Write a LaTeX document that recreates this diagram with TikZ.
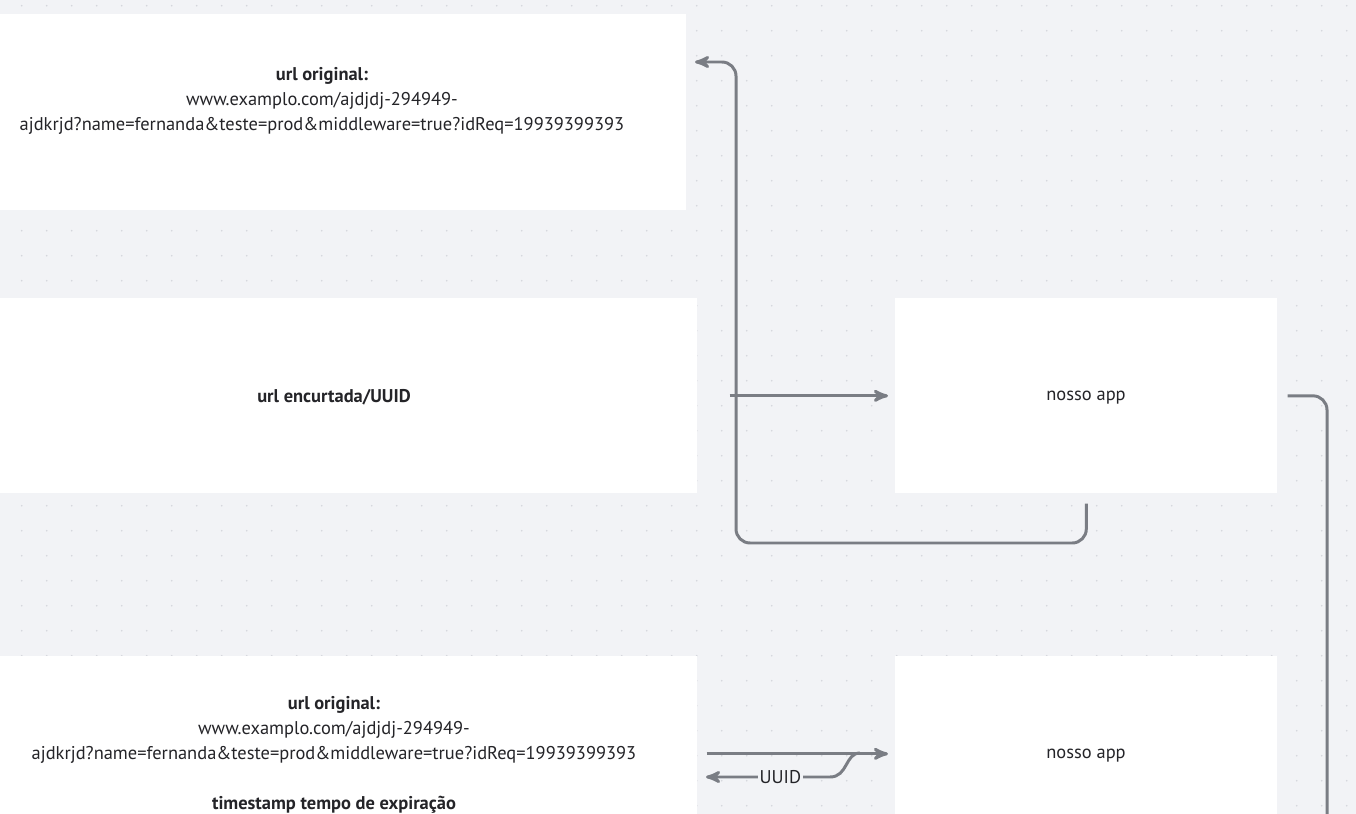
\documentclass[tikz,border=0pt]{standalone}
\usepackage{fontspec}
\setmainfont{PT Sans}
\usetikzlibrary{arrows, positioning}
\definecolor{bgcol}{RGB}{242,243,246}
\definecolor{dotcol}{RGB}{212,214,220}
\definecolor{linecol}{RGB}{122,125,132}
\definecolor{txtcol}{RGB}{36,36,40}
\tikzset{
        >=stealth', % filled arrow heads
        card/.style={fill=white, inner sep=0pt, anchor=north west},
        wide/.style={card, minimum width=13.94cm, minimum height=3.9cm},
        app/.style={card, minimum width=7.64cm, minimum height=3.9cm},
        txt/.style={text=txtcol, align=center, font=\fontsize{10.5}{14.2}\selectfont},
        wire/.style={draw=linecol, line width=1.7pt, rounded corners=8pt},
        flow/.style={wire, ->}
        }

\begin{document}
\begin{tikzpicture}[x=0.02cm, y=-0.02cm]
        % canvas
        \fill[bgcol] (0,0) rectangle (1356,814);
        \useasboundingbox (0,0) rectangle (1356,814);
        \clip (0,0) rectangle (1356,814);
        \foreach \i in {0,...,54}
          \foreach \j in {0,...,32}
            \fill[dotcol] (21.7+25*\i,5.7+25*\j) circle (0.9);

        % boxes
        \node[card, minimum width=13.72cm, minimum height=3.92cm] (orig1) at (0,14) {};
        \node[wide] (enc) at (0,298) {};
        \node[app] (app1) at (895,298) {};
        \node[wide] (orig2) at (0,656) {};
        \node[app] (app2) at (895,656) {};

        % texts
        \node[txt] (t1) at (322,101) {\textbf{url original:}\\
              www.examplo.com/ajdjdj-294949-\\
              ajdkrjd?name=fernanda\&teste=prod\&middleware=true?idReq=19939399393};
        \node[txt] (t2) at (334,397) {\textbf{url encurtada/UUID}};
        \node[txt] (t3) at (1086,398) {nosso app};
        \node[txt] (t4) at (334,755) {\textbf{url original:}\\
              www.examplo.com/ajdjdj-294949-\\
              ajdkrjd?name=fernanda\&teste=prod\&middleware=true?idReq=19939399393\\[14.2pt]
              \textbf{timestamp tempo de expiração}};
        \node[txt] (t5) at (1086,756) {nosso app};

        % connectors
        \coordinate (turn1) at (736,543);
        \coordinate (in1) at (695,62);
        \coordinate (down1) at (1327,840);
        \coordinate (split) at (860,753);
        \coordinate (back) at (706,777);
        \draw[flow, shorten <=0.2cm] (app1.south) |- (turn1) |- (in1);
        \draw[flow, shorten <=0.64cm, shorten >=0.14cm] (enc.east) -- (app1.west);
        \draw[wire, shorten <=0.2cm] (app1.east) -| (down1);
        \draw[flow, shorten <=0.18cm, shorten >=0.14cm] (orig2.east) -- (app2.west);
        \draw[flow, sharp corners] (split) .. controls (845,753) and (848,777) .. (830,777)
              -- node[pos=0.4, fill=bgcol, inner sep=1pt, txt] (uuid) {UUID} (back);
\end{tikzpicture}
\end{document}
